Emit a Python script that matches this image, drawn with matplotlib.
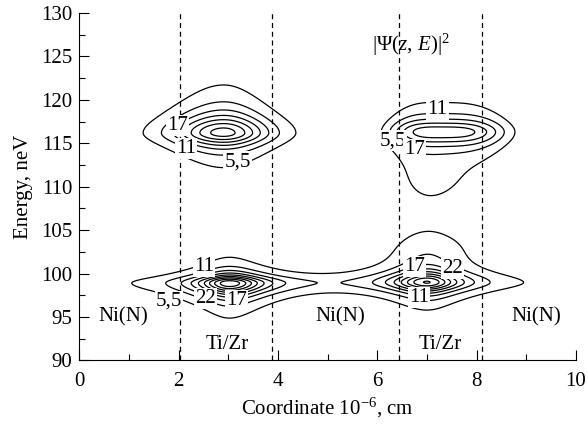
import numpy as np
import matplotlib.pyplot as plt

plt.rcParams['font.family'] = ['Liberation Serif', 'DejaVu Serif']
plt.rcParams['mathtext.fontset'] = 'custom'
plt.rcParams['mathtext.rm'] = 'Liberation Serif'
plt.rcParams['mathtext.it'] = 'Liberation Serif:italic'
plt.rcParams['font.size'] = 15

# Resonance lobes of |Psi(z,E)|^2: upper-left, upper-right, lower-left, lower-right
lobe_z = [2.9, 7.28, 3.02, 7.0]
lobe_E = [116.2, 116.3, 98.9, 99.0]
lobe_amp = [41, 31, 52, 48]
lobe_wz_left = [1.0, 1.0, 0.63, 0.695]
lobe_wz_right = [0.9, 1.25, 0.68, 0.648]
lobe_pz = [2, 3.4, 2, 2]      # shape of the z profile
lobe_nz = [4, 20, 1, 1]
lobe_wE_down = [1.53, 1.65, 1.34, 1.1]
lobe_wE_up = [2.15, 1.55, 0.95, 1.3]

# small extra humps between the right-hand lobes
hump_z = [7.08, 7.1]
hump_E = [103.0, 110.5]
hump_sz = [0.7, 0.65]
hump_sE = [1.7, 2.5]
hump_amp = [4.2, 3.85]

levels = [5.5, 11, 16.5, 22, 27.5, 33, 38.5, 44, 49.5]
layer_edges = [2.02, 3.87, 6.43, 8.11]

# contour labels as printed on the chart
label_text = ['17', '11', '5,5', '11', '5,5', '17', '11', '5,5', '22', '17', '17', '22', '11']
label_z = [1.97, 2.14, 3.18, 7.21, 6.31, 6.74, 2.51, 1.80, 2.54, 3.17, 6.74, 7.51, 6.84]
label_E = [117.1, 114.4, 112.9, 118.9, 115.3, 114.3, 100.8, 96.8, 97.1, 96.9, 100.8, 100.6, 97.2]

region_text = ['Ni(N)', 'Ti/Zr', 'Ni(N)', 'Ti/Zr', 'Ni(N)']
region_z = [0.89, 2.98, 5.25, 7.26, 9.19]
region_E = [95.0, 91.8, 95.0, 91.8, 95.0]

z = np.linspace(0, 10, 700)
E = np.linspace(90, 130, 600)
Z, EE = np.meshgrid(z, E)

F = np.zeros_like(Z)
for i in range(len(lobe_z)):
    dz = Z - lobe_z[i]
    wz = np.where(dz < 0, lobe_wz_left[i], lobe_wz_right[i])
    pz = (1 + np.abs(dz / wz) ** lobe_pz[i] / lobe_nz[i]) ** (-lobe_nz[i])
    dE = EE - lobe_E[i]
    wE = np.where(dE < 0, lobe_wE_down[i], lobe_wE_up[i])
    pE = 1 / (1 + (dE / wE) ** 2)
    F += lobe_amp[i] * pz * pE
for i in range(len(hump_z)):
    F += hump_amp[i] * np.exp(-(Z - hump_z[i]) ** 2 / (2 * hump_sz[i] ** 2)
                              - (EE - hump_E[i]) ** 2 / (2 * hump_sE[i] ** 2))

fig = plt.figure(figsize=(5.87, 4.29), dpi=100)
ax = fig.add_axes([0.1354, 0.1597, 0.9813 - 0.1354, 0.9697 - 0.1597])

ax.contour(Z, EE, F, levels=levels, colors='k', linewidths=0.9)

for x in layer_edges:
    ax.axvline(x, color='k', lw=0.9, dashes=(4, 3))

for t, x, y in zip(label_text, label_z, label_E):
    ax.text(x, y, t, ha='center', va='center', fontsize=15, zorder=5,
            bbox=dict(boxstyle='square,pad=0.05', fc='white', ec='none'))

for t, x, y in zip(region_text, region_z, region_E):
    ax.text(x, y, t, ha='center', va='center', fontsize=15)

ax.text(5.89, 126.3, r'$|\Psi(z,\,E)|^2$', ha='left', va='center', fontsize=15)

ax.set_xlim(0, 10)
ax.set_ylim(90, 130)
ax.set_xticks(np.arange(0, 11, 2))
ax.set_xticks(np.arange(1, 10, 2), minor=True)
ax.set_yticks(np.arange(90, 131, 5))
ax.set_yticks(np.arange(92.5, 130, 5), minor=True)
ax.tick_params(which='both', direction='in', top=False, right=False)
ax.tick_params(which='major', length=7, width=0.8)
ax.tick_params(which='minor', length=4, width=0.8)
ax.tick_params(axis='x', pad=8)
ax.tick_params(axis='y', pad=5)
ax.spines['top'].set_visible(False)
ax.spines['right'].set_visible(False)

ax.set_xlabel(r'Coordinate 10$^{-6}$, cm', fontsize=15, labelpad=4)
ax.set_ylabel('Energy, neV', fontsize=15, labelpad=6)

fig.savefig('out.png', dpi=100)
